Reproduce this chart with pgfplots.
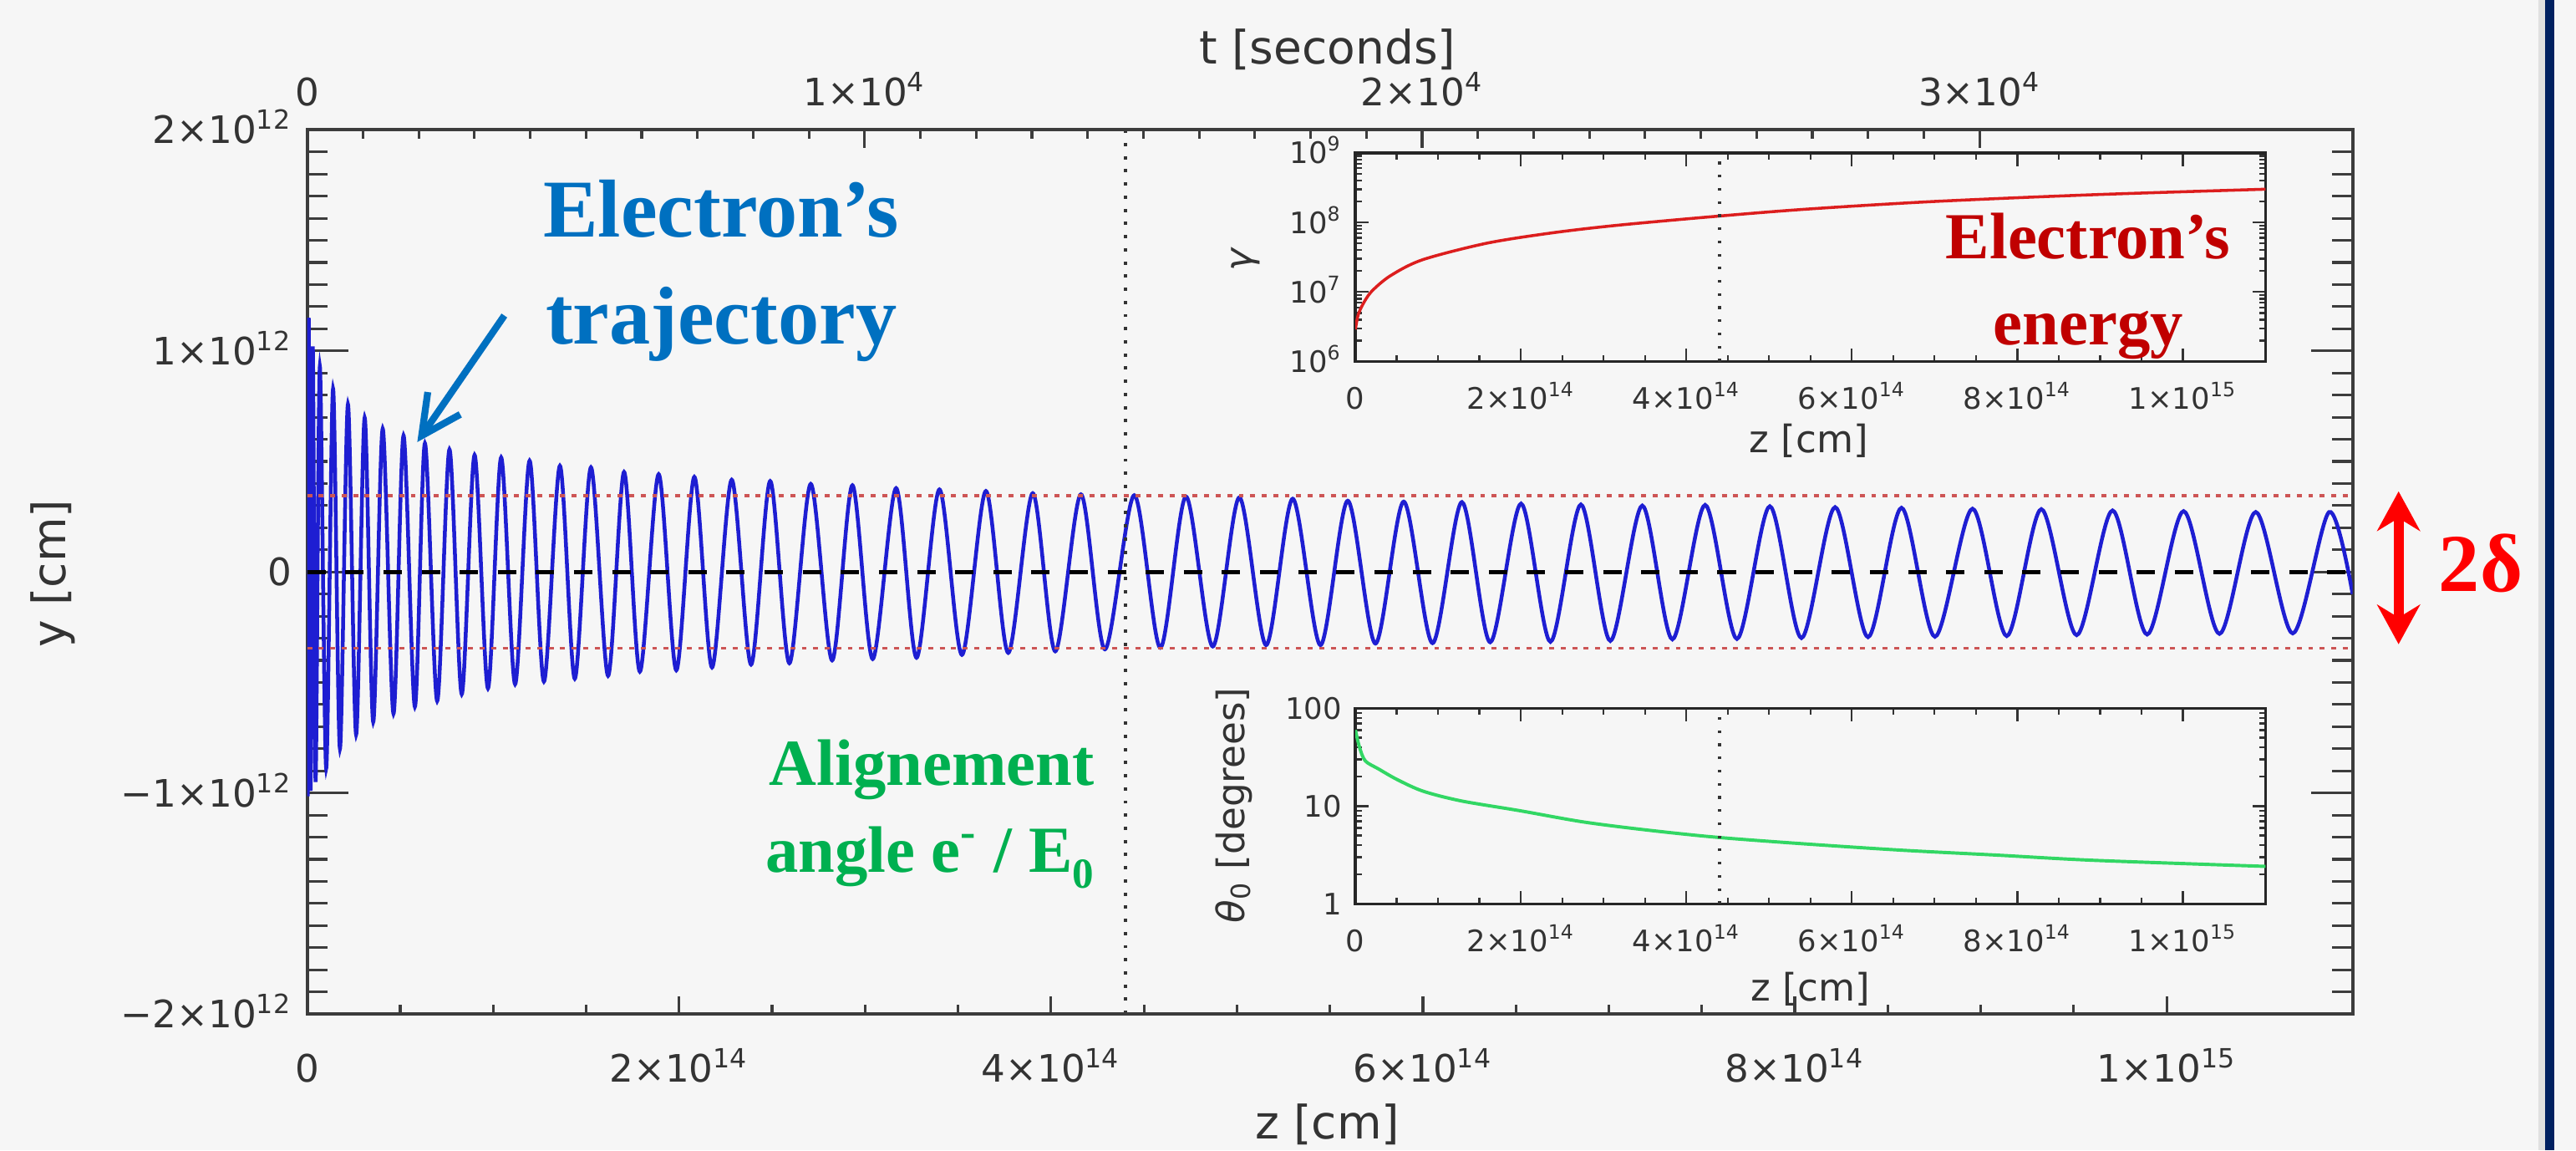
\documentclass[border=0pt]{standalone}
\usepackage{fontspec}
\usepackage{pgfplots}
\pgfplotsset{compat=1.18}
\usetikzlibrary{arrows.meta}
\newfontfamily\tickf{DejaVu Sans}
\newfontfamily\annot{Liberation Serif}
\definecolor{bg}{RGB}{246,246,246}
\definecolor{axc}{RGB}{60,60,60}
\definecolor{trajblue}{RGB}{30,30,210}
\definecolor{dotred}{RGB}{205,85,85}
\definecolor{gamred}{RGB}{220,30,30}
\definecolor{thgreen}{RGB}{50,215,100}
\definecolor{annblue}{RGB}{0,112,192}
\definecolor{annred}{RGB}{192,0,0}
\definecolor{anngreen}{RGB}{0,176,80}
\definecolor{navy}{RGB}{0,32,96}
\newcommand{\sci}[2]{#1×10\textsuperscript{#2}}
\pgfplotsset{
  mainax/.style={at={(93.5pt,41.5pt)}, anchor=south west, width=622.5pt, height=269pt,
    scale only axis, xmin=0, xmax=11, ymin=-2, ymax=2, tick align=inside,
    axis line style={axc, line width=1pt}, every tick/.style={axc, line width=0.8pt},
    tick label style={font=\tickf\fontsize{11.5}{12}\selectfont, color=black!80, inner sep=0pt},
    scaled x ticks=false, scaled y ticks=false},
  inset/.style={anchor=south west, width=277pt, scale only axis, xmin=0, xmax=11, tick align=inside,
    axis line style={black!85, line width=0.9pt}, every tick/.style={black!80, line width=0.6pt},
    major tick length=4pt, minor tick length=2pt,
    xtick={0,2,4,6,8,10}, xticklabels={0,\sci{2}{14},\sci{4}{14},\sci{6}{14},\sci{8}{14},\sci{1}{15}},
    minor x tick num=3, axis background/.style={fill=bg},
    tick label style={font=\tickf\fontsize{9}{9}\selectfont, inner sep=0pt, color=black!80},
    xticklabel style={anchor=base, yshift=-14.5pt},
    yticklabel style={anchor=base east, xshift=-4pt, yshift=-3.3pt}}
}
\begin{document}
\begin{tikzpicture}
\fill[bg] (0,0) rectangle (784pt,350pt);
\path[use as bounding box] (0,0) rectangle (784pt,350pt);

% main axis with data and y ticks
\begin{axis}[mainax, xtick=\empty, ytick={-2,-1,0,1,2},
  yticklabels={−\sci{2}{12},−\sci{1}{12},0,\sci{1}{12},\sci{2}{12}},
  minor y tick num=9, major tick length=12.5pt, minor tick length=6.25pt,
  yticklabel style={anchor=base east, xshift=-4.5pt, yshift=-4.2pt}]
\addplot[trajblue, line width=1.15pt, smooth] coordinates {
(0.000,0.00) (0.003,-1.00) (0.008,1.15) (0.018,-0.99) (0.030,1.02) (0.045,-0.95)
(0.068,0.93) (0.102,-0.889) (0.139,0.829) (0.176,-0.800) (0.219,0.759) (0.263,-0.736)
(0.309,0.698) (0.355,-0.679) (0.406,0.648) (0.464,-0.641) (0.518,0.617) (0.579,-0.610)
(0.633,0.582) (0.699,-0.584) (0.765,0.554) (0.831,-0.553) (0.900,0.529) (0.972,-0.527)
(1.043,0.518) (1.118,-0.508) (1.196,0.503) (1.273,-0.496) (1.359,0.480) (1.439,-0.483)
(1.526,0.473) (1.618,-0.470) (1.704,0.452) (1.789,-0.451) (1.890,0.442) (1.985,-0.445)
(2.082,0.430) (2.177,-0.432) (2.283,0.417) (2.387,-0.419) (2.490,0.411) (2.593,-0.413)
(2.708,0.398) (2.823,-0.400) (2.932,0.392) (3.041,-0.394) (3.167,0.379) (3.277,-0.388)
(3.400,0.373) (3.521,-0.375) (3.650,0.366) (3.770,-0.366) (3.902,0.356) (4.023,-0.359)
(4.161,0.351) (4.290,-0.350) (4.448,0.347) (4.588,-0.343) (4.726,0.341) (4.870,-0.337)
(5.013,0.337) (5.157,-0.331) (5.300,0.331) (5.449,-0.331) (5.596,0.322) (5.745,-0.324)
(5.897,0.318) (6.052,-0.322) (6.210,0.316) (6.362,-0.318) (6.528,0.309) (6.686,-0.316)
(6.850,0.305) (7.008,-0.312) (7.180,0.300) (7.342,-0.305) (7.518,0.303) (7.689,-0.303)
(7.866,0.297) (8.036,-0.299) (8.217,0.293) (8.394,-0.295) (8.574,0.290) (8.754,-0.293)
(8.956,0.286) (9.140,-0.290) (9.326,0.284) (9.516,-0.286) (9.709,0.278) (9.895,-0.283)
(10.091,0.275) (10.284,-0.280) (10.479,0.271) (10.678,-0.278) (10.874,0.271) (11.000,-0.10)
};
\addplot[dotred, line width=1pt, dash pattern=on 1.5pt off 2pt] coordinates {(0,0.345) (11,0.345)};
\addplot[dotred, line width=1pt, dash pattern=on 1.5pt off 2pt] coordinates {(0,-0.345) (11,-0.345)};
\addplot[black, line width=1.3pt, dash pattern=on 5.6pt off 6pt] coordinates {(0,0) (11,0)};
\addplot[black!80, line width=1.1pt, dash pattern=on 1pt off 3pt] coordinates {(4.4,-2) (4.4,2)};
\end{axis}

% bottom z ticks
\begin{axis}[mainax, axis x line*=bottom, axis y line=none,
  xtick={0,2,4,6,8,10}, xticklabels={0,\sci{2}{14},\sci{4}{14},\sci{6}{14},\sci{8}{14},\sci{1}{15}},
  minor x tick num=3, major tick length=5.5pt, minor tick length=2.75pt,
  xticklabel style={anchor=base, yshift=-20.7pt}]
\end{axis}

% top t ticks
\begin{axis}[mainax, xmin=0, xmax=36692, axis x line*=top, axis y line=none,
  xtick={0,10000,20000,30000}, xticklabels={0,\sci{1}{4},\sci{2}{4},\sci{3}{4}},
  minor x tick num=9, major tick length=5.5pt, minor tick length=2.75pt,
  xticklabel style={anchor=base, yshift=7.3pt}]
\end{axis}

% inset 1: gamma
\begin{axis}[inset, at={(412.5pt,240pt)}, height=63.5pt, ymode=log, ymin=1e6, ymax=1e9,
  ytick={1e6,1e7,1e8,1e9},
  yticklabels={10\textsuperscript{6},10\textsuperscript{7},10\textsuperscript{8},10\textsuperscript{9}}]
\addplot[gamred, line width=0.9pt, smooth] coordinates {
(0,2.9e6) (0.03,4.5e6) (0.08,6.3e6) (0.19,1.0e7) (0.42,1.7e7) (0.81,2.9e7) (1.58,5.0e7)
(2.35,7.0e7) (3.13,9.0e7) (4.28,1.2e8) (5.45,1.55e8) (7.0,2.0e8) (8.92,2.5e8) (11.0,3.0e8)
};
\addplot[black!80, line width=0.9pt, dash pattern=on 0.8pt off 3.2pt] coordinates {(4.4,1e6) (4.4,1e9)};
\end{axis}

% inset 2: theta
\begin{axis}[inset, at={(412.5pt,75pt)}, height=59.5pt, ymode=log, ymin=1, ymax=100,
  ytick={1,10,100}, yticklabels={1,10,100}]
\addplot[thgreen, line width=1pt, smooth] coordinates {
(0,60) (0.05,40) (0.12,29) (0.28,24) (0.51,18.6) (0.82,14.2) (1.28,11.3) (1.98,9.0)
(2.75,6.9) (3.52,5.7) (4.37,4.8) (5.45,4.1) (6.61,3.54) (7.77,3.15) (8.93,2.79) (11.0,2.42)
};
\addplot[black!80, line width=0.9pt, dash pattern=on 0.8pt off 3.2pt] coordinates {(4.4,1) (4.4,100)};
\end{axis}

% axis labels
\begin{scope}[every node/.style={font=\tickf\fontsize{14}{15}\selectfont, text=black!80}]
\node at (404pt,335pt) {t [seconds]};
\node at (404pt,8pt) {z [cm]};
\node[rotate=90] at (16pt,175.5pt) {y [cm]};
\end{scope}
\begin{scope}[every node/.style={font=\tickf\fontsize{11.5}{12}\selectfont, text=black!80}]
\node at (550.5pt,216pt) {z [cm]};
\node at (551pt,49pt) {z [cm]};
\node[rotate=90] at (379pt,271pt) {\itshape γ};
\node[rotate=90] at (375.5pt,105pt) {{\itshape θ}\textsubscript{0} [degrees]};
\end{scope}

% annotations
\begin{scope}[every node/.style={font=\annot\bfseries\fontsize{25}{25}\selectfont}]
\node[anchor=base, text=annblue] at (219.5pt,278pt) {Electron’s};
\node[anchor=base, text=annblue] at (219.5pt,245.3pt) {trajectory};
\node[anchor=base, text=red] at (755pt,170pt) {2δ};
\end{scope}
\draw[annblue, line width=2.1pt, -{Straight Barb[length=12pt, width=12pt]}] (153.5pt,254pt) -- (127pt,215.5pt);
\begin{scope}[every node/.style={font=\annot\bfseries\fontsize{20}{20}\selectfont}]
\node[anchor=base, text=annred] at (635.5pt,271.2pt) {Electron’s};
\node[anchor=base, text=annred] at (635.5pt,245pt) {energy};
\node[anchor=base east, text=anngreen] at (336.5pt,111pt) {Alignement};
\node[anchor=base east, text=anngreen] at (336.5pt,84.7pt) {angle e\textsuperscript{-} / E\raisebox{-5pt}{\fontsize{13}{13}\selectfont 0}};
\end{scope}
\draw[red, line width=3pt, {Stealth[length=12pt,width=13pt]}-{Stealth[length=12pt,width=13pt]}] (730pt,200.5pt) -- (730pt,154pt);

% right frame bar
\fill[black!12] (772.5pt,0) rectangle (774.5pt,350pt);
\fill[navy] (774.5pt,0) rectangle (777.5pt,350pt);
\end{tikzpicture}
\end{document}
